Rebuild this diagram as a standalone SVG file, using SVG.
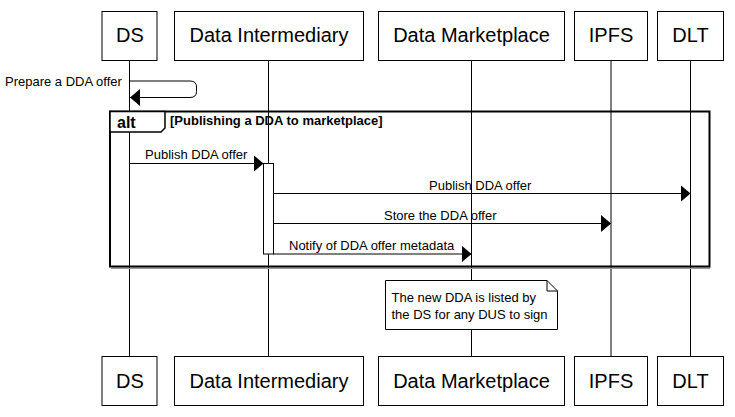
<svg xmlns="http://www.w3.org/2000/svg" width="735" height="417" viewBox="0 0 735 417">
<style>
.box{fill:#fff;stroke:#000;stroke-width:1}
.pt{font-family:"Liberation Sans",Arial,sans-serif;font-size:20px;fill:#000;text-anchor:middle}
.msg{font-family:"Liberation Sans",Arial,sans-serif;font-size:13px;fill:#000}
.life{stroke:#000;stroke-width:1;fill:none}
.ln{stroke:#000;stroke-width:1;fill:none}
.bold{font-family:"Liberation Sans",Arial,sans-serif;font-weight:bold;fill:#000}
</style>
<defs>
<marker id="ah" markerWidth="10" markerHeight="17" refX="10" refY="8.5" orient="auto" markerUnits="userSpaceOnUse">
<polygon points="0,0 10,8.5 0,17" fill="#000"/>
</marker>
</defs>
<rect width="735" height="417" fill="#fff"/>
<g id="lifelines">
<line class="life" x1="129.5" y1="60" x2="129.5" y2="356"/>
<line class="life" x1="268.5" y1="60" x2="268.5" y2="356"/>
<line class="life" x1="471.5" y1="60" x2="471.5" y2="356"/>
<line class="life" x1="611" y1="60" x2="611" y2="356"/>
<line class="life" x1="690.5" y1="60" x2="690.5" y2="356"/>
</g>
<g id="alt-frame">
<line x1="111" y1="268.3" x2="710" y2="268.3" stroke="#999" stroke-width="1.5"/>
<rect x="110" y="111.5" width="599.5" height="155" fill="none" stroke="#000" stroke-width="2"/>
<polygon points="110,111.5 165,111.5 165,128 161,132 110,132" fill="#fff" stroke="#000" stroke-width="1.5"/>
<text class="bold" x="117" y="128" font-size="16">alt</text>
<text class="bold" x="170" y="125" font-size="13">[Publishing a DDA to marketplace]</text>
</g>
<g id="activation">
<rect class="box" x="263.5" y="163.5" width="10" height="90.5"/>
</g>
<g id="connectors">
<path class="ln" d="M129.5,81 H190 Q196.5,81 196.5,87 V91.5 Q196.5,97.5 190,97.5 H130" marker-end="url(#ah)"/>
<text class="msg" x="5" y="86">Prepare a DDA offer</text>
<line class="ln" x1="129.5" y1="163.5" x2="263.5" y2="163.5" marker-end="url(#ah)"/>
<text class="msg" x="145" y="159">Publish DDA offer</text>
<line class="ln" x1="273.5" y1="193.5" x2="690.5" y2="193.5" marker-end="url(#ah)"/>
<text class="msg" x="429" y="189.5">Publish DDA offer</text>
<line class="ln" x1="273.5" y1="223.5" x2="611" y2="223.5" marker-end="url(#ah)"/>
<text class="msg" x="384" y="219.5">Store the DDA offer</text>
<line class="ln" x1="273.5" y1="254" x2="471.5" y2="254" marker-end="url(#ah)"/>
<text class="msg" x="289" y="249.5">Notify of DDA offer metadata</text>
</g>
<g id="note">
<polygon points="385.5,280.5 547,280.5 557.5,291 557.5,329.5 385.5,329.5" fill="#fff" stroke="#000" stroke-width="1"/>
<polyline points="547,280.5 547,291 557.5,291" fill="none" stroke="#000" stroke-width="1"/>
<text class="msg" x="391.5" y="302">The new DDA is listed by</text>
<text class="msg" x="391.5" y="319">the DS for any DUS to sign</text>
</g>
<g id="p-ds-top"><rect class="box" x="102" y="11.5" width="55" height="49"/><text class="pt" x="130" y="42">DS</text></g>
<g id="p-di-top"><rect class="box" x="174.5" y="11.5" width="189" height="49"/><text class="pt" x="269" y="42">Data Intermediary</text></g>
<g id="p-dm-top"><rect class="box" x="378.5" y="11.5" width="186" height="49"/><text class="pt" x="471.5" y="42">Data Marketplace</text></g>
<g id="p-ipfs-top"><rect class="box" x="574.5" y="11.5" width="73" height="49"/><text class="pt" x="611" y="42">IPFS</text></g>
<g id="p-dlt-top"><rect class="box" x="657.5" y="11.5" width="66" height="49"/><text class="pt" x="690.5" y="42">DLT</text></g>
<g id="p-ds-bottom"><rect class="box" x="102" y="356.5" width="55" height="49"/><text class="pt" x="130" y="388">DS</text></g>
<g id="p-di-bottom"><rect class="box" x="174.5" y="356.5" width="189" height="49"/><text class="pt" x="269" y="388">Data Intermediary</text></g>
<g id="p-dm-bottom"><rect class="box" x="378.5" y="356.5" width="186" height="49"/><text class="pt" x="471.5" y="388">Data Marketplace</text></g>
<g id="p-ipfs-bottom"><rect class="box" x="574.5" y="356.5" width="73" height="49"/><text class="pt" x="611" y="388">IPFS</text></g>
<g id="p-dlt-bottom"><rect class="box" x="657.5" y="356.5" width="66" height="49"/><text class="pt" x="690.5" y="388">DLT</text></g>
</svg>
